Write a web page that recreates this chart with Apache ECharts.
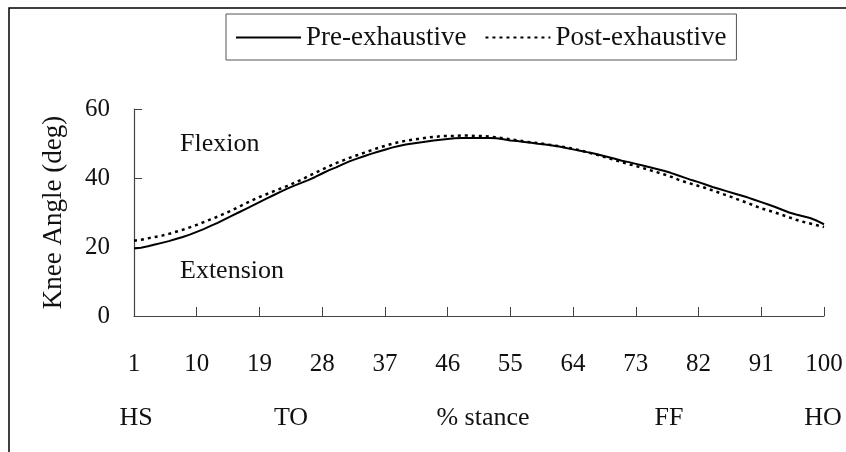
<!DOCTYPE html>
<html>
<head>
<meta charset="utf-8">
<script src="https://cdn.jsdelivr.net/npm/echarts@6/dist/echarts.min.js"></script>
<style>
  html, body { margin: 0; padding: 0; background: #fff; }
  #main { width: 846px; height: 452px; }
</style>
</head>
<body>
<div id="main"></div>
<script>
// % stance, 1..100
const stance = Array.from({ length: 100 }, (_, i) => String(i + 1))

// knee angle (deg)
const preExhaustive = [
  19.6, 19.8, 20.2, 20.7, 21.2, 21.7, 22.3, 22.9, 23.6, 24.4,
  25.2, 26.1, 27.0, 28.0, 29.0, 30.0, 31.0, 32.0, 33.0, 34.0,
  35.0, 36.0, 36.9, 37.8, 38.6, 39.4, 40.3, 41.3, 42.3, 43.1,
  44.0, 44.9, 45.6, 46.3, 47.0, 47.6, 48.2, 48.8, 49.3, 49.7,
  50.0, 50.3, 50.6, 50.9, 51.1, 51.3, 51.5, 51.6, 51.6, 51.6,
  51.6, 51.6, 51.5, 51.2, 50.9, 50.7, 50.4, 50.2, 49.9, 49.7,
  49.4, 49.1, 48.7, 48.3, 47.9, 47.5, 47.1, 46.6, 46.1, 45.6,
  45.0, 44.6, 44.1, 43.6, 43.1, 42.6, 42.1, 41.5, 40.8, 40.1,
  39.4, 38.8, 38.1, 37.4, 36.8, 36.2, 35.6, 35.0, 34.4, 33.7,
  33.0, 32.3, 31.6, 30.8, 30.0, 29.4, 28.9, 28.4, 27.6, 26.6
]
const postExhaustive = [
  21.8, 22.1, 22.5, 22.9, 23.3, 23.8, 24.4, 25.0, 25.7, 26.4,
  27.2, 28.0, 28.8, 29.7, 30.6, 31.6, 32.6, 33.6, 34.5, 35.3,
  36.1, 36.9, 37.7, 38.6, 39.5, 40.5, 41.5, 42.5, 43.4, 44.3,
  45.1, 45.9, 46.6, 47.3, 48.0, 48.7, 49.3, 49.9, 50.4, 50.8,
  51.1, 51.4, 51.7, 51.9, 52.1, 52.2, 52.2, 52.3, 52.3, 52.2,
  52.2, 52.0, 51.8, 51.5, 51.2, 50.9, 50.6, 50.3, 50.1, 49.8,
  49.5, 49.2, 48.9, 48.5, 48.0, 47.5, 47.0, 46.4, 45.8, 45.2,
  44.6, 44.0, 43.5, 42.9, 42.3, 41.7, 41.1, 40.4, 39.6, 38.9,
  38.3, 37.7, 37.1, 36.4, 35.7, 35.0, 34.3, 33.5, 32.8, 32.0,
  31.2, 30.6, 30.0, 29.3, 28.6, 27.9, 27.3, 26.8, 26.3, 25.8
]

// gait events under the axis
const phaseLabels = ['HS', 'TO', '% stance', 'FF', 'HO']
const phaseX = [136, 291, 483, 669, 823]

const font = "'Liberation Serif', 'Times New Roman', serif"
const ink = '#111'

const chart = echarts.init(document.getElementById('main'))

const graphics = [
  {
    type: 'rect',
    shape: { x: 9, y: 8, width: 900, height: 500 },
    style: { fill: 'none', stroke: '#000', lineWidth: 1.5 },
    silent: true
  },
  {
    type: 'text', left: 180, top: 131,
    style: { text: 'Flexion', font: '26px ' + font, fill: ink }
  },
  {
    type: 'text', left: 180, top: 258,
    style: { text: 'Extension', font: '26px ' + font, fill: ink }
  }
]
phaseLabels.forEach((t, i) => {
  graphics.push({
    type: 'text',
    x: phaseX[i], y: 418,
    style: {
      text: t, font: '26px ' + font, fill: ink,
      align: 'center', verticalAlign: 'middle'
    }
  })
})

chart.setOption({
  animation: false,
  backgroundColor: '#fff',
  textStyle: { fontFamily: font },
  grid: { left: 134, right: 22, top: 109, bottom: 136 },
  legend: {
    left: 226,
    top: 14,
    padding: [10, 10, 9, 9],
    itemGap: 18,
    itemWidth: 65,
    itemHeight: 2,
    borderColor: '#555',
    borderWidth: 1,
    itemStyle: { opacity: 0 },
    textStyle: { fontSize: 27, color: ink, fontFamily: font },
    data: ['Pre-exhaustive', 'Post-exhaustive']
  },
  xAxis: {
    type: 'category',
    data: stance,
    boundaryGap: false,
    axisLine: { lineStyle: { color: '#444', width: 1.2 } },
    axisTick: { inside: true, length: 9, interval: 8, lineStyle: { color: '#444' } },
    axisLabel: { interval: 8, margin: 36, fontSize: 25, color: ink, fontFamily: font },
    splitLine: { show: false }
  },
  yAxis: {
    type: 'value',
    min: 0,
    max: 60,
    interval: 20,
    name: 'Knee Angle (deg)',
    nameLocation: 'middle',
    nameGap: 67,
    nameTextStyle: { fontSize: 27, color: ink, fontFamily: font },
    axisLine: { show: true, lineStyle: { color: '#444', width: 1.2 } },
    axisTick: { show: true, inside: true, length: 8, lineStyle: { color: '#444' } },
    axisLabel: { margin: 24, fontSize: 25, color: ink, fontFamily: font },
    splitLine: { show: false }
  },
  series: [
    {
      name: 'Pre-exhaustive',
      type: 'line',
      data: preExhaustive,
      symbol: 'none',
      lineStyle: { color: '#000', width: 2 },
      itemStyle: { color: '#000' }
    },
    {
      name: 'Post-exhaustive',
      type: 'line',
      data: postExhaustive,
      symbol: 'none',
      lineStyle: { color: '#000', width: 2.5, type: [3, 4] },
      itemStyle: { color: '#000' }
    }
  ],
  graphic: graphics
})
</script>
</body>
</html>
